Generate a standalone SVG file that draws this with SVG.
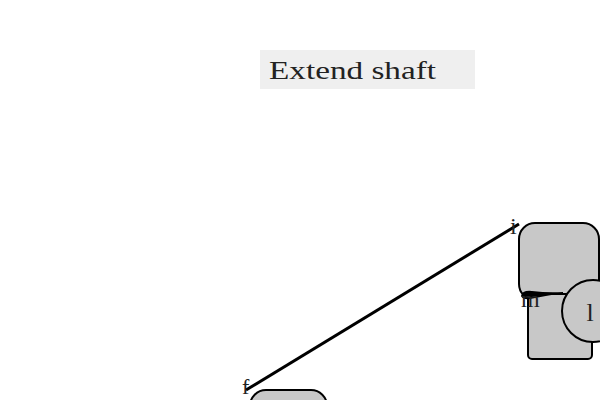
<svg xmlns="http://www.w3.org/2000/svg" width="600" height="400" viewBox="0 0 600 400">
<style>
.node{fill:#c8c8c8;stroke:#000;stroke-width:2}
.lbl{font-family:"Liberation Serif","DejaVu Serif",serif;fill:#222}
.edge{stroke:#000;stroke-width:3;fill:none}
</style>
<rect width="600" height="400" fill="#fff"/>
<g id="title">
<rect x="260" y="50" width="215" height="39" fill="#efefef"/>
<text class="lbl" x="269" y="79" font-size="25" textLength="167" lengthAdjust="spacingAndGlyphs">Extend shaft</text>
</g>
<g id="node-i">
<rect class="node" x="519" y="223" width="80" height="77" rx="16"/>
</g>
<g id="node-m">
<rect class="node" x="528" y="294" width="64" height="65" rx="4"/>
</g>
<g id="node-f">
<rect class="node" x="250" y="390" width="77" height="40" rx="16"/>
</g>
<g id="connectors">
<line class="edge" x1="246" y1="390" x2="519" y2="224"/>
<path d="M521,296 Q522,290 532,291 Q548,293 563,292 L563,293 Q545,296 530,299 Q523,300 521,296 Z" fill="#000"/>
</g>
<g id="node-l">
<circle class="node" cx="593" cy="311" r="31"/>
<text class="lbl" x="590" y="321" font-size="26" text-anchor="middle">l</text>
</g>
<g id="labels">
<text class="lbl" x="510" y="234" font-size="24">i</text>
<text class="lbl" x="521" y="307" font-size="24">m</text>
<text class="lbl" x="242" y="394" font-size="22">f</text>
</g>
</svg>
